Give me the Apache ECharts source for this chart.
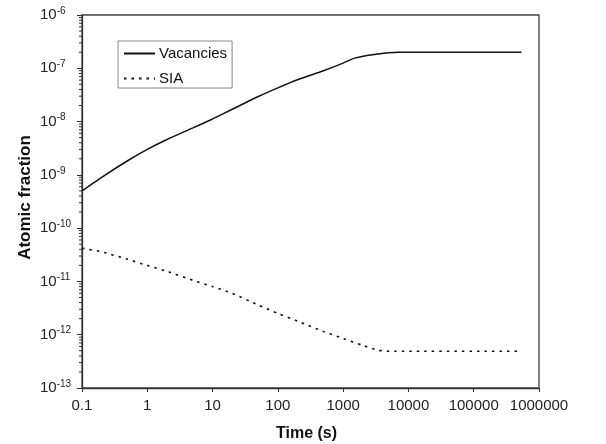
<!DOCTYPE html>
<html>
<head>
<meta charset="utf-8">
<script src="https://cdn.jsdelivr.net/npm/echarts@6/dist/echarts.min.js"></script>
<style>
  html, body { margin: 0; padding: 0; background: #fff; }
  #chart { width: 606px; height: 444px; }
</style>
</head>
<body>
<div id="chart"></div>
<script>
// time (s) and atomic fractions
const vacTime = [0.1, 0.2, 0.5, 1, 2, 5, 10, 20, 50, 100, 200, 500, 1000, 1500, 3000, 7000, 540000];
const vacValues = [5.0e-10, 9.0e-10, 1.84e-9, 3.0e-9, 4.6e-9, 7.6e-9, 1.12e-8, 1.7e-8, 2.95e-8, 4.3e-8,
  6.1e-8, 9.0e-8, 1.25e-7, 1.55e-7, 1.82e-7, 2.0e-7, 2.0e-7];
const siaTime = [0.1, 0.2, 0.5, 1, 2, 5, 10, 20, 50, 100, 200, 500, 1000, 2000, 3500, 5000, 520000];
const siaValues = [4.2e-11, 3.6e-11, 2.6e-11, 2.0e-11, 1.55e-11, 1.05e-11, 8.0e-12, 6.0e-12, 3.6e-12, 2.5e-12,
  1.8e-12, 1.15e-12, 8.5e-13, 6.3e-13, 5.1e-13, 4.9e-13, 4.9e-13];
const xMin = 0.1, xMax = 1000000;
const yMin = 1e-13, yMax = 1e-6;

// minor tick values 2..9 in every decade of the y axis
let yMinor = [];
for (let d = -13; d < -6; d++) {
  for (let k = 2; k <= 9; k++) {
    yMinor.push([xMin, k * Math.pow(10, d)]);
  }
}

const font = 'Liberation Sans, Arial, sans-serif';
var myChart = echarts.init(document.getElementById('chart'));
var option = {
  animation: false,
  grid: {
    left: 82, right: 67, top: 15, bottom: 56,
    outerBoundsMode: 'none',
    show: true, borderColor: '#444', borderWidth: 1.3
  },
  legend: {
    data: ['Vacancies', 'SIA'],
    orient: 'vertical',
    left: 118, top: 41,
    padding: [5, 5, 2, 5],
    itemWidth: 31, itemHeight: 12, itemGap: 10,
    borderColor: '#888', borderWidth: 1,
    itemStyle: { opacity: 0 },
    textStyle: { fontFamily: font, fontSize: 15, color: '#111', padding: [0, 0, 0, -1] }
  },
  xAxis: {
    type: 'log', logBase: 10, min: xMin, max: xMax,
    name: 'Time (s)', nameLocation: 'middle', nameGap: 38, nameMoveOverlap: false,
    nameTextStyle: { fontFamily: font, fontSize: 16, fontWeight: 'bold', color: '#111', padding: [0, 8, 0, 0] },
    axisLine: { lineStyle: { color: '#333', width: 1.3 } },
    axisTick: { length: 4, lineStyle: { color: '#333' } },
    splitLine: { show: false },
    axisLabel: {
      fontFamily: font, fontSize: 15, color: '#222', margin: 10,
      formatter: function (v) {
        const e = Math.round(Math.log10(v));
        return e < 0 ? '0.1' : String(Math.pow(10, e));
      }
    }
  },
  yAxis: {
    type: 'log', logBase: 10, min: yMin, max: yMax,
    name: 'Atomic fraction', nameLocation: 'middle', nameGap: 48, nameMoveOverlap: false,
    nameTextStyle: { fontFamily: font, fontSize: 17, fontWeight: 'bold', color: '#111', padding: [0, 0, 0, 8] },
    axisLine: { lineStyle: { color: '#333', width: 1.3 } },
    axisTick: { length: 5, lineStyle: { color: '#333' } },
    splitLine: { show: false },
    axisLabel: {
      margin: 42, align: 'left', color: '#222',
      formatter: function (v) {
        const e = Math.round(Math.log10(v));
        return '{b|10}{s|' + e + '}';
      },
      rich: {
        b: { fontFamily: font, fontSize: 15, color: '#222', lineHeight: 18 },
        s: { fontFamily: font, fontSize: 10, color: '#222', verticalAlign: 'top', lineHeight: 11 }
      }
    }
  },
  series: [
    {
      name: 'Vacancies', type: 'line', symbol: 'none', smooth: 0.2,
      lineStyle: { color: '#111', width: 1.5 },
      itemStyle: { color: '#111' },
      data: vacTime.map((t, i) => [t, vacValues[i]])
    },
    {
      name: 'SIA', type: 'line', symbol: 'none', smooth: 0.2,
      lineStyle: { color: '#111', width: 1.6, type: [2.5, 5] },
      itemStyle: { color: '#111' },
      data: siaTime.map((t, i) => [t, siaValues[i]])
    },
    {
      // minor ticks on the log y axis
      name: 'minor', type: 'custom', clip: false, silent: true,
      renderItem: function (params, api) {
        const p = api.coord([api.value(0), api.value(1)]);
        return {
          type: 'line',
          shape: { x1: p[0] - 3, y1: p[1], x2: p[0], y2: p[1] },
          style: { stroke: '#333', lineWidth: 1 }
        };
      },
      data: yMinor
    }
  ]
};
myChart.setOption(option);
</script>
</body>
</html>
